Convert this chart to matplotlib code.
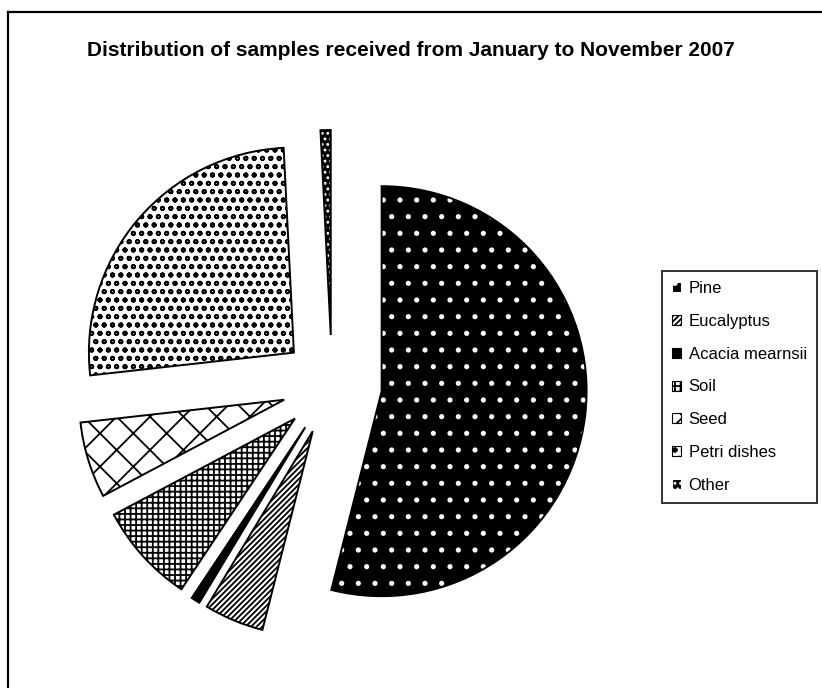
import matplotlib
matplotlib.use("Agg")
import matplotlib.pyplot as plt
from matplotlib.patches import Patch
from matplotlib.lines import Line2D

plt.rcParams['font.family'] = ['Liberation Sans', 'DejaVu Sans']
plt.rcParams['hatch.linewidth'] = 1.3

# samples per category
labels = ['Pine', 'Eucalyptus', 'Acacia mearnsii', 'Soil', 'Seed', 'Petri dishes', 'Other']
counts = [540, 47, 7, 79, 60, 260, 8]

faces = ['black', 'white', 'black', 'white', 'white', 'white', 'black']
hatch_cols = ['white', 'black', 'black', 'black', 'black', 'black', 'white']
hatches = ['.', '//////', '', '+++', 'x', 'oo', '...']

W, H = 822, 688
fig = plt.figure(figsize=(W / 100, H / 100), dpi=100)
ax = fig.add_axes([0, 0, 1, 1])

center = (332, H - 385)
radius = 205
explode = [50] * len(counts)   # pie explode is in data units here

# hatched fills
wedges, _ = ax.pie(counts, explode=explode, startangle=90, counterclock=False,
                   center=center, radius=radius, wedgeprops=dict(linewidth=0))
for w, fc, hc, h in zip(wedges, faces, hatch_cols, hatches):
    w.set_facecolor(fc)
    w.set_edgecolor(hc)
    w.set_linewidth(0)
    w.set_hatch(h)

# black outlines on top
ax.pie(counts, explode=explode, startangle=90, counterclock=False,
       center=center, radius=radius,
       wedgeprops=dict(fill=False, edgecolor='black', linewidth=1.4))

ax.set_xlim(0, W)
ax.set_ylim(0, H)
ax.set_aspect('equal')
ax.axis('off')

# chart border (left and top visible)
fig.add_artist(Line2D([8 / W, 8 / W], [0, 1 - 12 / H], color='black', lw=1.6,
                      transform=fig.transFigure))
fig.add_artist(Line2D([8 / W, 1], [1 - 12 / H, 1 - 12 / H], color='black', lw=1.6,
                      transform=fig.transFigure))

fig.text(0.5, 1 - 51 / H, 'Distribution of samples received from January to November 2007',
         ha='center', va='center', fontsize=15, fontweight='bold')

handles = [Patch(facecolor=fc, edgecolor=hc, hatch=h, linewidth=0.8)
           for fc, hc, h in zip(faces, hatch_cols, hatches)]
leg = fig.legend(handles, labels, loc='upper left',
                 bbox_to_anchor=(662 / W, 1 - 271 / H),
                 fontsize=12, frameon=True, fancybox=False, shadow=False,
                 handlelength=0.55, handleheight=0.55, handletextpad=0.45,
                 labelspacing=1.07, borderpad=0.6, borderaxespad=0)
leg.get_frame().set_edgecolor('black')
leg.get_frame().set_linewidth(1.4)

fig.savefig('out.png', dpi=100)
